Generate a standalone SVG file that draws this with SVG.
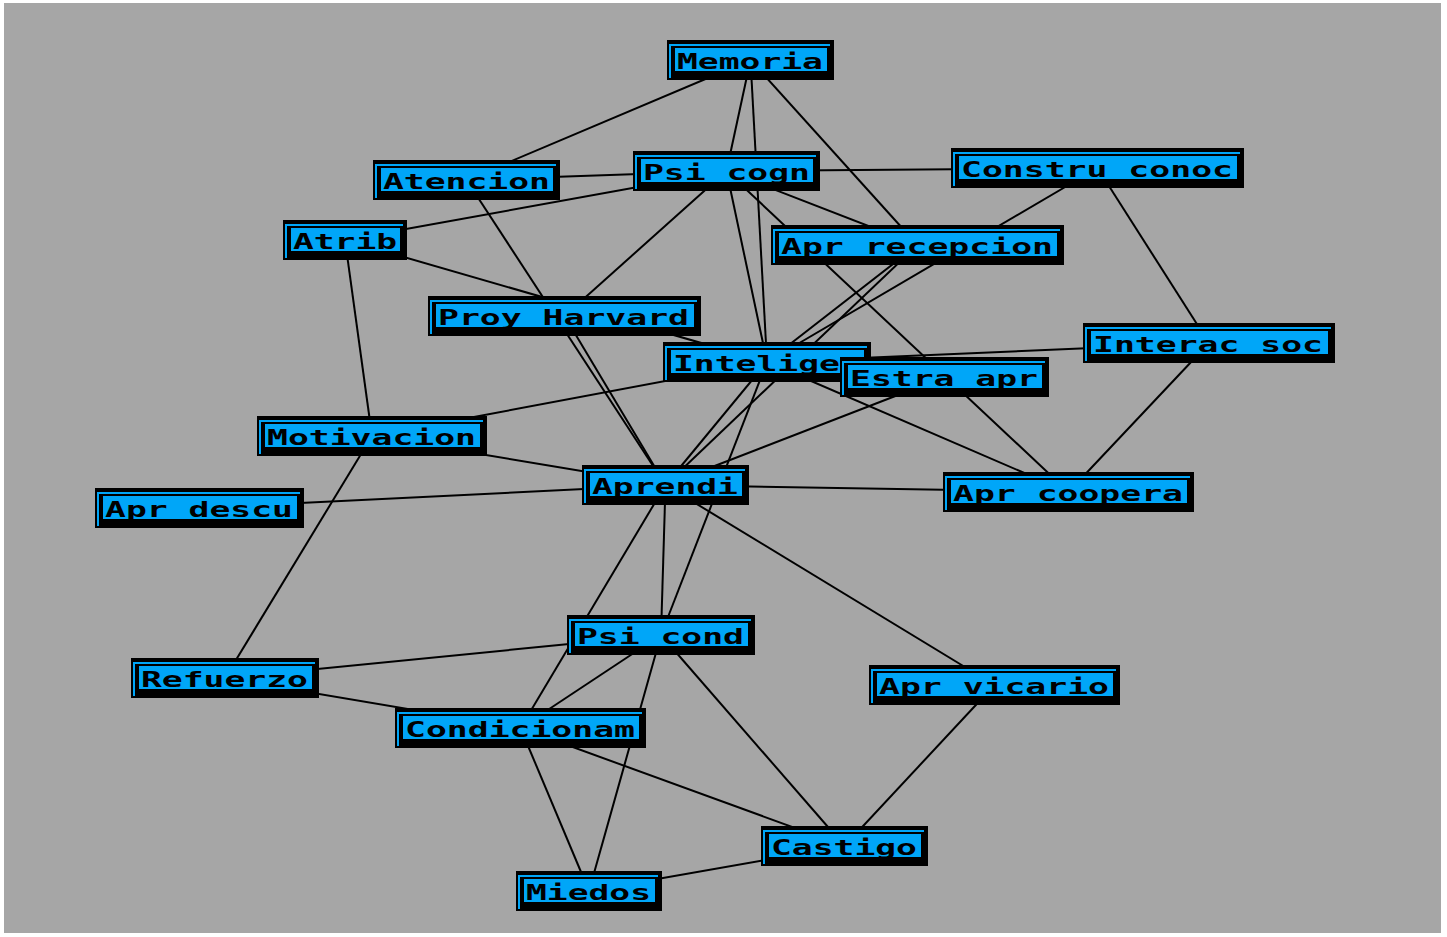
<svg xmlns="http://www.w3.org/2000/svg" width="1447" height="937" viewBox="0 0 1447 937">
  <style>
    .bg { fill: #a6a6a6; }
    .edge { stroke: #000; stroke-width: 2; fill: none; }
    .box { fill: #000; }
    .rim { fill: none; stroke: #00a6f8; stroke-width: 2; }
    .face { fill: #00a6f8; }
    .lbl { font-family: "DejaVu Sans Mono", "Liberation Mono", monospace; font-weight: bold; font-size: 21px; fill: #000; }
  </style>

  <rect x="0" y="0" width="1447" height="937" fill="#ffffff"/>
  <rect class="bg" x="4" y="3" width="1437" height="930"/>

  <!-- connectors: drawn centre to centre, boxes are painted over them -->
  <g id="connectors">
    <line class="edge" x1="750.5" y1="60" x2="466.5" y2="180"/>
    <line class="edge" x1="750.5" y1="60" x2="726.5" y2="171"/>
    <line class="edge" x1="750.5" y1="60" x2="767" y2="362"/>
    <line class="edge" x1="750.5" y1="60" x2="917.5" y2="245"/>
    <line class="edge" x1="466.5" y1="180" x2="726.5" y2="171"/>
    <line class="edge" x1="466.5" y1="180" x2="665.5" y2="485"/>
    <line class="edge" x1="726.5" y1="171" x2="345" y2="240"/>
    <line class="edge" x1="726.5" y1="171" x2="1097.5" y2="168"/>
    <line class="edge" x1="726.5" y1="171" x2="564.5" y2="316"/>
    <line class="edge" x1="726.5" y1="171" x2="767" y2="362"/>
    <line class="edge" x1="726.5" y1="171" x2="917.5" y2="245"/>
    <line class="edge" x1="726.5" y1="171" x2="1068.5" y2="492"/>
    <line class="edge" x1="1097.5" y1="168" x2="767" y2="362"/>
    <line class="edge" x1="1097.5" y1="168" x2="1209" y2="343"/>
    <line class="edge" x1="345" y1="240" x2="767" y2="362"/>
    <line class="edge" x1="345" y1="240" x2="372" y2="436"/>
    <line class="edge" x1="917.5" y1="245" x2="767" y2="362"/>
    <line class="edge" x1="917.5" y1="245" x2="665.5" y2="485"/>
    <line class="edge" x1="564.5" y1="316" x2="665.5" y2="485"/>
    <line class="edge" x1="767" y1="362" x2="1209" y2="343"/>
    <line class="edge" x1="767" y1="362" x2="372" y2="436"/>
    <line class="edge" x1="767" y1="362" x2="665.5" y2="485"/>
    <line class="edge" x1="767" y1="362" x2="1068.5" y2="492"/>
    <line class="edge" x1="767" y1="362" x2="661" y2="635"/>
    <line class="edge" x1="944.5" y1="377" x2="665.5" y2="485"/>
    <line class="edge" x1="1209" y1="343" x2="1068.5" y2="492"/>
    <line class="edge" x1="372" y1="436" x2="665.5" y2="485"/>
    <line class="edge" x1="372" y1="436" x2="225" y2="678"/>
    <line class="edge" x1="199.5" y1="508" x2="665.5" y2="485"/>
    <line class="edge" x1="665.5" y1="485" x2="1068.5" y2="492"/>
    <line class="edge" x1="665.5" y1="485" x2="661" y2="635"/>
    <line class="edge" x1="665.5" y1="485" x2="520.5" y2="728"/>
    <line class="edge" x1="665.5" y1="485" x2="994.5" y2="685"/>
    <line class="edge" x1="661" y1="635" x2="225" y2="678"/>
    <line class="edge" x1="661" y1="635" x2="520.5" y2="728"/>
    <line class="edge" x1="661" y1="635" x2="589" y2="891"/>
    <line class="edge" x1="661" y1="635" x2="844.5" y2="846"/>
    <line class="edge" x1="225" y1="678" x2="520.5" y2="728"/>
    <line class="edge" x1="520.5" y1="728" x2="589" y2="891"/>
    <line class="edge" x1="520.5" y1="728" x2="844.5" y2="846"/>
    <line class="edge" x1="589" y1="891" x2="844.5" y2="846"/>
    <line class="edge" x1="994.5" y1="685" x2="844.5" y2="846"/>
  </g>

  <!-- nodes: black shadow box, thin blue rim, blue face, label -->
  <g id="n-memoria">
    <rect class="box" x="667" y="40" width="167" height="40"/>
    <path class="rim" d="M670 78V45H830"/>
    <rect class="face" x="675" y="48" width="152" height="23"/>
    <text class="lbl" x="677" y="69" textLength="146" lengthAdjust="spacingAndGlyphs">Memoria</text>
  </g>
  <g id="n-atencion">
    <rect class="box" x="373" y="160" width="187" height="40"/>
    <path class="rim" d="M376 198V165H556"/>
    <rect class="face" x="381" y="168" width="172" height="23"/>
    <text class="lbl" x="383" y="189" textLength="167" lengthAdjust="spacingAndGlyphs">Atencion</text>
  </g>
  <g id="n-psicogn">
    <rect class="box" x="633" y="151" width="187" height="40"/>
    <path class="rim" d="M636 189V156H816"/>
    <rect class="face" x="641" y="159" width="172" height="23"/>
    <text class="lbl" x="643" y="180" textLength="167" lengthAdjust="spacingAndGlyphs">Psi cogn</text>
  </g>
  <g id="n-construconoc">
    <rect class="box" x="951" y="148" width="293" height="40"/>
    <path class="rim" d="M954 186V153H1240"/>
    <rect class="face" x="959" y="156" width="278" height="23"/>
    <text class="lbl" x="961" y="177" textLength="272" lengthAdjust="spacingAndGlyphs">Constru conoc</text>
  </g>
  <g id="n-atrib">
    <rect class="box" x="283" y="220" width="124" height="40"/>
    <path class="rim" d="M286 258V225H403"/>
    <rect class="face" x="291" y="228" width="109" height="23"/>
    <text class="lbl" x="293" y="249" textLength="104" lengthAdjust="spacingAndGlyphs">Atrib</text>
  </g>
  <g id="n-aprrecepcion">
    <rect class="box" x="771" y="225" width="293" height="40"/>
    <path class="rim" d="M774 263V230H1060"/>
    <rect class="face" x="779" y="233" width="278" height="23"/>
    <text class="lbl" x="781" y="254" textLength="272" lengthAdjust="spacingAndGlyphs">Apr recepcion</text>
  </g>
  <g id="n-proyharvard">
    <rect class="box" x="428" y="296" width="273" height="40"/>
    <path class="rim" d="M431 334V301H697"/>
    <rect class="face" x="436" y="304" width="258" height="23"/>
    <text class="lbl" x="438" y="325" textLength="251" lengthAdjust="spacingAndGlyphs">Proy Harvard</text>
  </g>
  <g id="n-intelige">
    <rect class="box" x="663" y="342" width="208" height="40"/>
    <path class="rim" d="M666 380V347H867"/>
    <rect class="face" x="671" y="350" width="193" height="23"/>
    <text class="lbl" x="673" y="371" textLength="167" lengthAdjust="spacingAndGlyphs">Intelige</text>
  </g>
  <g id="n-estraapr">
    <rect class="box" x="840" y="357" width="209" height="40"/>
    <path class="rim" d="M843 395V362H1045"/>
    <rect class="face" x="848" y="365" width="194" height="23"/>
    <text class="lbl" x="850" y="386" textLength="188" lengthAdjust="spacingAndGlyphs">Estra apr</text>
  </g>
  <g id="n-interacsoc">
    <rect class="box" x="1083" y="323" width="252" height="40"/>
    <path class="rim" d="M1086 361V328H1331"/>
    <rect class="face" x="1091" y="331" width="237" height="23"/>
    <text class="lbl" x="1093" y="352" textLength="230" lengthAdjust="spacingAndGlyphs">Interac soc</text>
  </g>
  <g id="n-motivacion">
    <rect class="box" x="257" y="416" width="230" height="40"/>
    <path class="rim" d="M260 454V421H483"/>
    <rect class="face" x="265" y="424" width="215" height="23"/>
    <text class="lbl" x="267" y="445" textLength="209" lengthAdjust="spacingAndGlyphs">Motivacion</text>
  </g>
  <g id="n-aprdescu">
    <rect class="box" x="95" y="488" width="209" height="40"/>
    <path class="rim" d="M98 526V493H300"/>
    <rect class="face" x="103" y="496" width="194" height="23"/>
    <text class="lbl" x="105" y="517" textLength="188" lengthAdjust="spacingAndGlyphs">Apr descu</text>
  </g>
  <g id="n-aprendi">
    <rect class="box" x="582" y="465" width="167" height="40"/>
    <path class="rim" d="M585 503V470H745"/>
    <rect class="face" x="590" y="473" width="152" height="23"/>
    <text class="lbl" x="592" y="494" textLength="146" lengthAdjust="spacingAndGlyphs">Aprendi</text>
  </g>
  <g id="n-aprcoopera">
    <rect class="box" x="943" y="472" width="251" height="40"/>
    <path class="rim" d="M946 510V477H1190"/>
    <rect class="face" x="951" y="480" width="236" height="23"/>
    <text class="lbl" x="953" y="501" textLength="230" lengthAdjust="spacingAndGlyphs">Apr coopera</text>
  </g>
  <g id="n-psicond">
    <rect class="box" x="567" y="615" width="188" height="40"/>
    <path class="rim" d="M570 653V620H751"/>
    <rect class="face" x="575" y="623" width="173" height="23"/>
    <text class="lbl" x="577" y="644" textLength="167" lengthAdjust="spacingAndGlyphs">Psi cond</text>
  </g>
  <g id="n-refuerzo">
    <rect class="box" x="131" y="658" width="188" height="40"/>
    <path class="rim" d="M134 696V663H315"/>
    <rect class="face" x="139" y="666" width="173" height="23"/>
    <text class="lbl" x="141" y="687" textLength="167" lengthAdjust="spacingAndGlyphs">Refuerzo</text>
  </g>
  <g id="n-aprvicario">
    <rect class="box" x="869" y="665" width="251" height="40"/>
    <path class="rim" d="M872 703V670H1116"/>
    <rect class="face" x="877" y="673" width="236" height="23"/>
    <text class="lbl" x="879" y="694" textLength="230" lengthAdjust="spacingAndGlyphs">Apr vicario</text>
  </g>
  <g id="n-condicionam">
    <rect class="box" x="395" y="708" width="251" height="40"/>
    <path class="rim" d="M398 746V713H642"/>
    <rect class="face" x="403" y="716" width="236" height="23"/>
    <text class="lbl" x="405" y="737" textLength="230" lengthAdjust="spacingAndGlyphs">Condicionam</text>
  </g>
  <g id="n-castigo">
    <rect class="box" x="761" y="826" width="167" height="40"/>
    <path class="rim" d="M764 864V831H924"/>
    <rect class="face" x="769" y="834" width="152" height="23"/>
    <text class="lbl" x="771" y="855" textLength="146" lengthAdjust="spacingAndGlyphs">Castigo</text>
  </g>
  <g id="n-miedos">
    <rect class="box" x="516" y="871" width="146" height="40"/>
    <path class="rim" d="M519 909V876H658"/>
    <rect class="face" x="524" y="879" width="131" height="23"/>
    <text class="lbl" x="526" y="900" textLength="125" lengthAdjust="spacingAndGlyphs">Miedos</text>
  </g>
</svg>
